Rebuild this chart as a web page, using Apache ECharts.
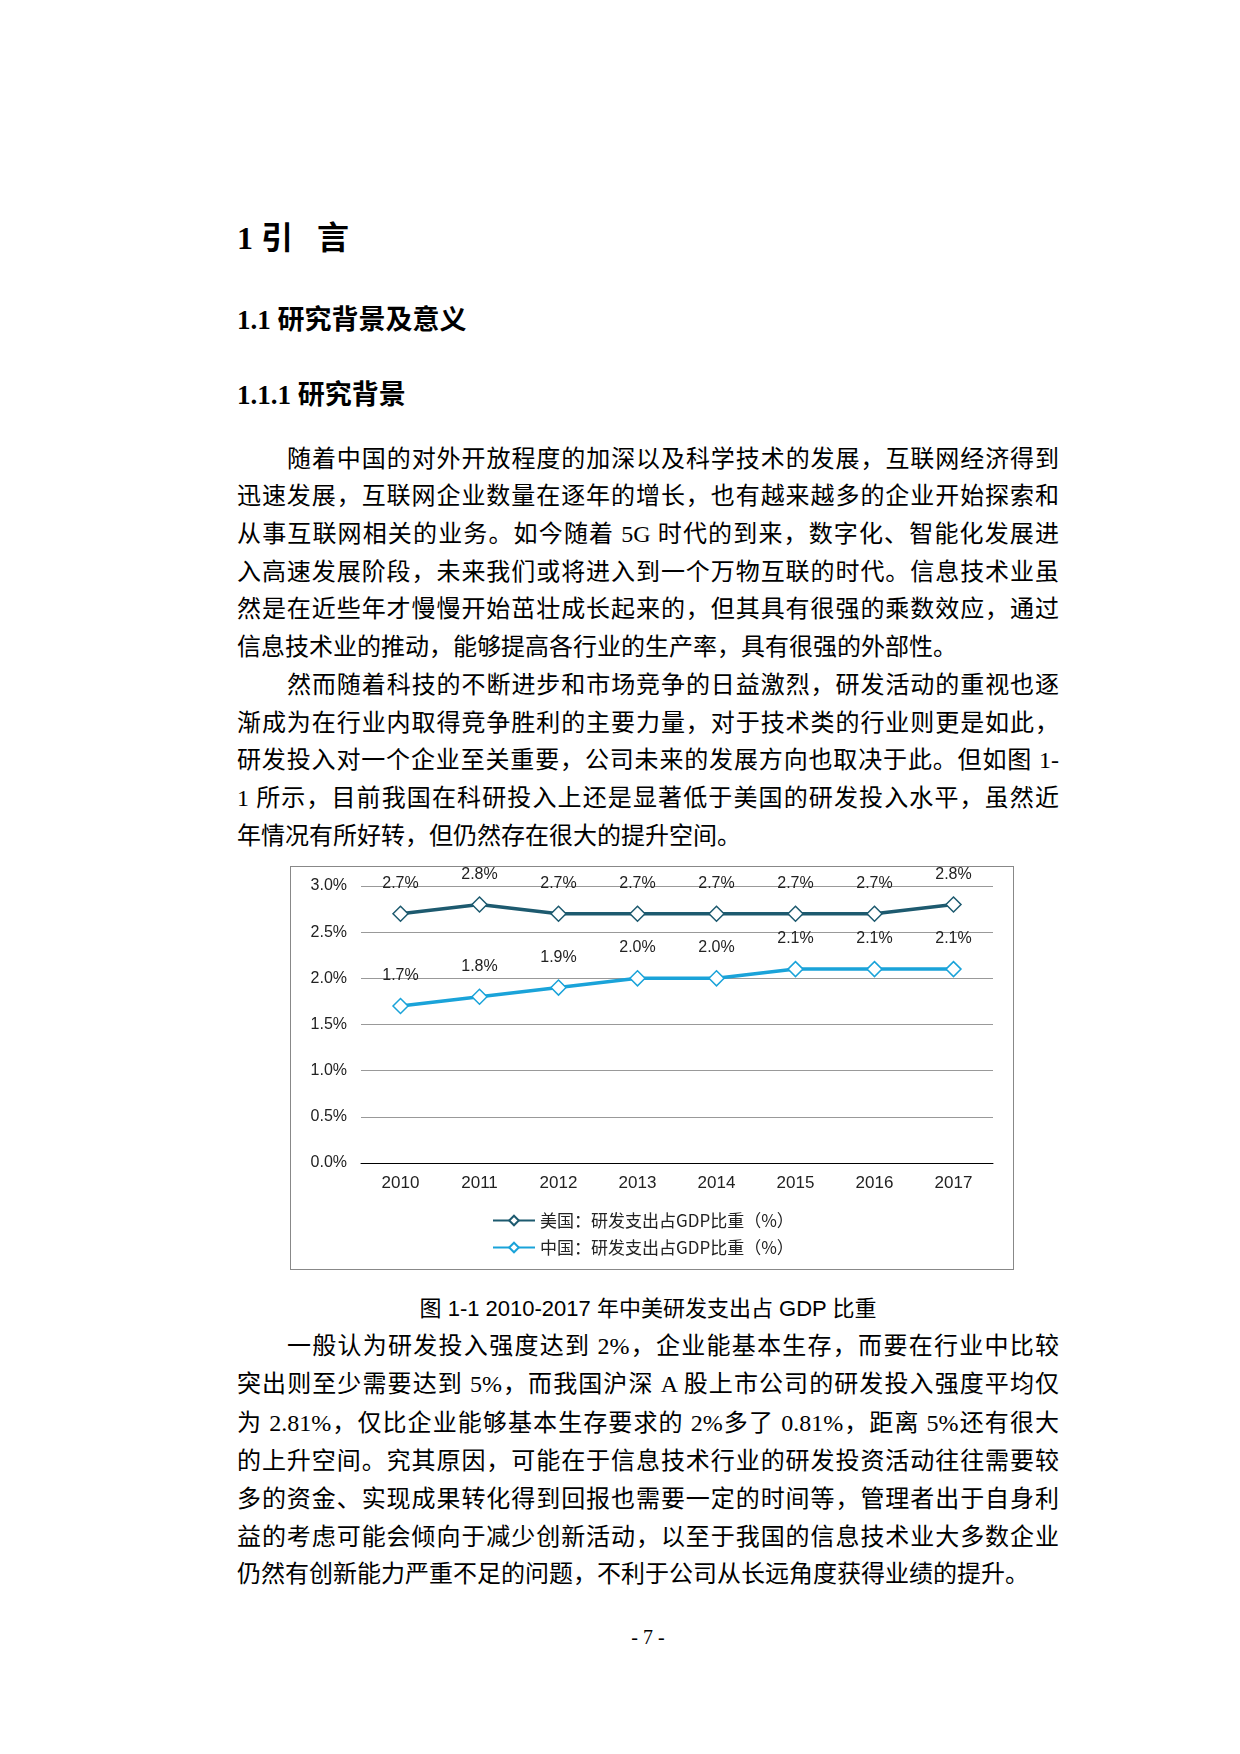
<!DOCTYPE html>
<html><head><meta charset="utf-8">
<script src="https://cdn.jsdelivr.net/npm/echarts@6/dist/echarts.min.js"></script>
<style>
body{margin:0;background:#fff;width:1240px;height:1754px;position:relative;font-family:"Liberation Serif","Noto Sans CJK SC",serif;color:#000}
.h{position:absolute;left:237px;font-weight:bold;font-family:"Liberation Serif","Noto Sans CJK SC";}
.ln{position:absolute;left:237px;width:822px;font-size:24px;line-height:30px;text-align:justify;text-align-last:justify;white-space:nowrap}
.ln.last{text-align-last:left}
.ind{padding-left:50px;width:772px}
#chart{position:absolute;left:290px;top:866px;width:722px;height:402px;border:1px solid #888}
.cap{position:absolute;top:1290px;left:0;width:1296px;text-align:center;font-size:22px;font-family:"Liberation Sans","Noto Sans CJK SC"}
.pg{position:absolute;top:1626px;left:0;width:1296px;text-align:center;font-size:20px}
</style></head><body>
<div class="h" style="top:212px;font-size:32px">1 引&nbsp;&nbsp;&nbsp;言</div>
<div class="h" style="top:298px;font-size:27px">1.1 研究背景及意义</div>
<div class="h" style="top:373px;font-size:27px">1.1.1 研究背景</div>
<div id="text"></div>
<div id="chart"></div>
<div class="cap">图 1-1 2010-2017 年中美研发支出占 GDP 比重</div>
<div class="pg">- 7 -</div>
<script>
const years = ['2010','2011','2012','2013','2014','2015','2016','2017'];
const usValues = [2.7, 2.8, 2.7, 2.7, 2.7, 2.7, 2.7, 2.8];
const cnValues = [1.7, 1.8, 1.9, 2.0, 2.0, 2.1, 2.1, 2.1];
const usName = '美国：研发支出占GDP比重（%）';
const cnName = '中国：研发支出占GDP比重（%）';

const lines = [
  [444, '随着中国的对外开放程度的加深以及科学技术的发展，互联网经济得到', 'ind'],
  [481, '迅速发展，互联网企业数量在逐年的增长，也有越来越多的企业开始探索和', ''],
  [519, '从事互联网相关的业务。如今随着 5G 时代的到来，数字化、智能化发展进', ''],
  [557, '入高速发展阶段，未来我们或将进入到一个万物互联的时代。信息技术业虽', ''],
  [594, '然是在近些年才慢慢开始茁壮成长起来的，但其具有很强的乘数效应，通过', ''],
  [632, '信息技术业的推动，能够提高各行业的生产率，具有很强的外部性。', 'last'],
  [670, '然而随着科技的不断进步和市场竞争的日益激烈，研发活动的重视也逐', 'ind'],
  [708, '渐成为在行业内取得竞争胜利的主要力量，对于技术类的行业则更是如此，', ''],
  [745, '研发投入对一个企业至关重要，公司未来的发展方向也取决于此。但如图 1-', ''],
  [783, '1 所示，目前我国在科研投入上还是显著低于美国的研发投入水平，虽然近', ''],
  [821, '年情况有所好转，但仍然存在很大的提升空间。', 'last'],
  [1331, '一般认为研发投入强度达到 2%，企业能基本生存，而要在行业中比较', 'ind'],
  [1369, '突出则至少需要达到 5%，而我国沪深 A 股上市公司的研发投入强度平均仅', ''],
  [1408, '为 2.81%，仅比企业能够基本生存要求的 2%多了 0.81%，距离 5%还有很大', ''],
  [1446, '的上升空间。究其原因，可能在于信息技术行业的研发投资活动往往需要较', ''],
  [1484, '多的资金、实现成果转化得到回报也需要一定的时间等，管理者出于自身利', ''],
  [1522, '益的考虑可能会倾向于减少创新活动，以至于我国的信息技术业大多数企业', ''],
  [1559, '仍然有创新能力严重不足的问题，不利于公司从长远角度获得业绩的提升。', 'last']
];
document.getElementById('text').innerHTML = lines.map(l =>
  '<div class="ln ' + l[2] + '" style="top:' + l[0] + 'px">' + l[1] + '</div>').join('');

const chart = echarts.init(document.getElementById('chart'));
const labelStyle = {show: true, position: 'top', distance: 14, fontSize: 16, color: '#222',
  fontFamily: 'Liberation Sans', formatter: p => p.value.toFixed(1) + '%'};
chart.setOption({
  animation: false,
  grid: {left: 70, right: 20, top: 19, bottom: 106},
  legend: {
    orient: 'vertical', left: 196, top: 340, itemGap: 10, itemWidth: 42, itemHeight: 12,
    textStyle: {fontSize: 17, color: '#222', fontFamily: 'Noto Sans CJK SC'},
    data: [usName, cnName]
  },
  xAxis: {
    type: 'category', data: years, boundaryGap: true,
    axisLine: {lineStyle: {color: '#000'}}, axisTick: {show: false},
    axisLabel: {fontSize: 17, color: '#222', margin: 12, fontFamily: 'Liberation Sans'}
  },
  yAxis: {
    type: 'value', min: 0, max: 3, interval: 0.5,
    axisLine: {show: false}, axisTick: {show: false},
    splitLine: {lineStyle: {color: '#999'}},
    axisLabel: {fontSize: 16, color: '#222', margin: 14, fontFamily: 'Liberation Sans',
      formatter: v => v.toFixed(1) + '%'}
  },
  series: [
    {name: usName, type: 'line', data: usValues, symbol: 'diamond', symbolSize: 15,
      lineStyle: {width: 3.5, color: '#1d5a6f'}, itemStyle: {color: '#fff', borderColor: '#1d5a6f', borderWidth: 1.5},
      label: labelStyle},
    {name: cnName, type: 'line', data: cnValues, symbol: 'diamond', symbolSize: 15,
      lineStyle: {width: 3.5, color: '#1aa3d9'}, itemStyle: {color: '#fff', borderColor: '#1aa3d9', borderWidth: 1.5},
      label: labelStyle}
  ]
});
</script>
</body></html>
